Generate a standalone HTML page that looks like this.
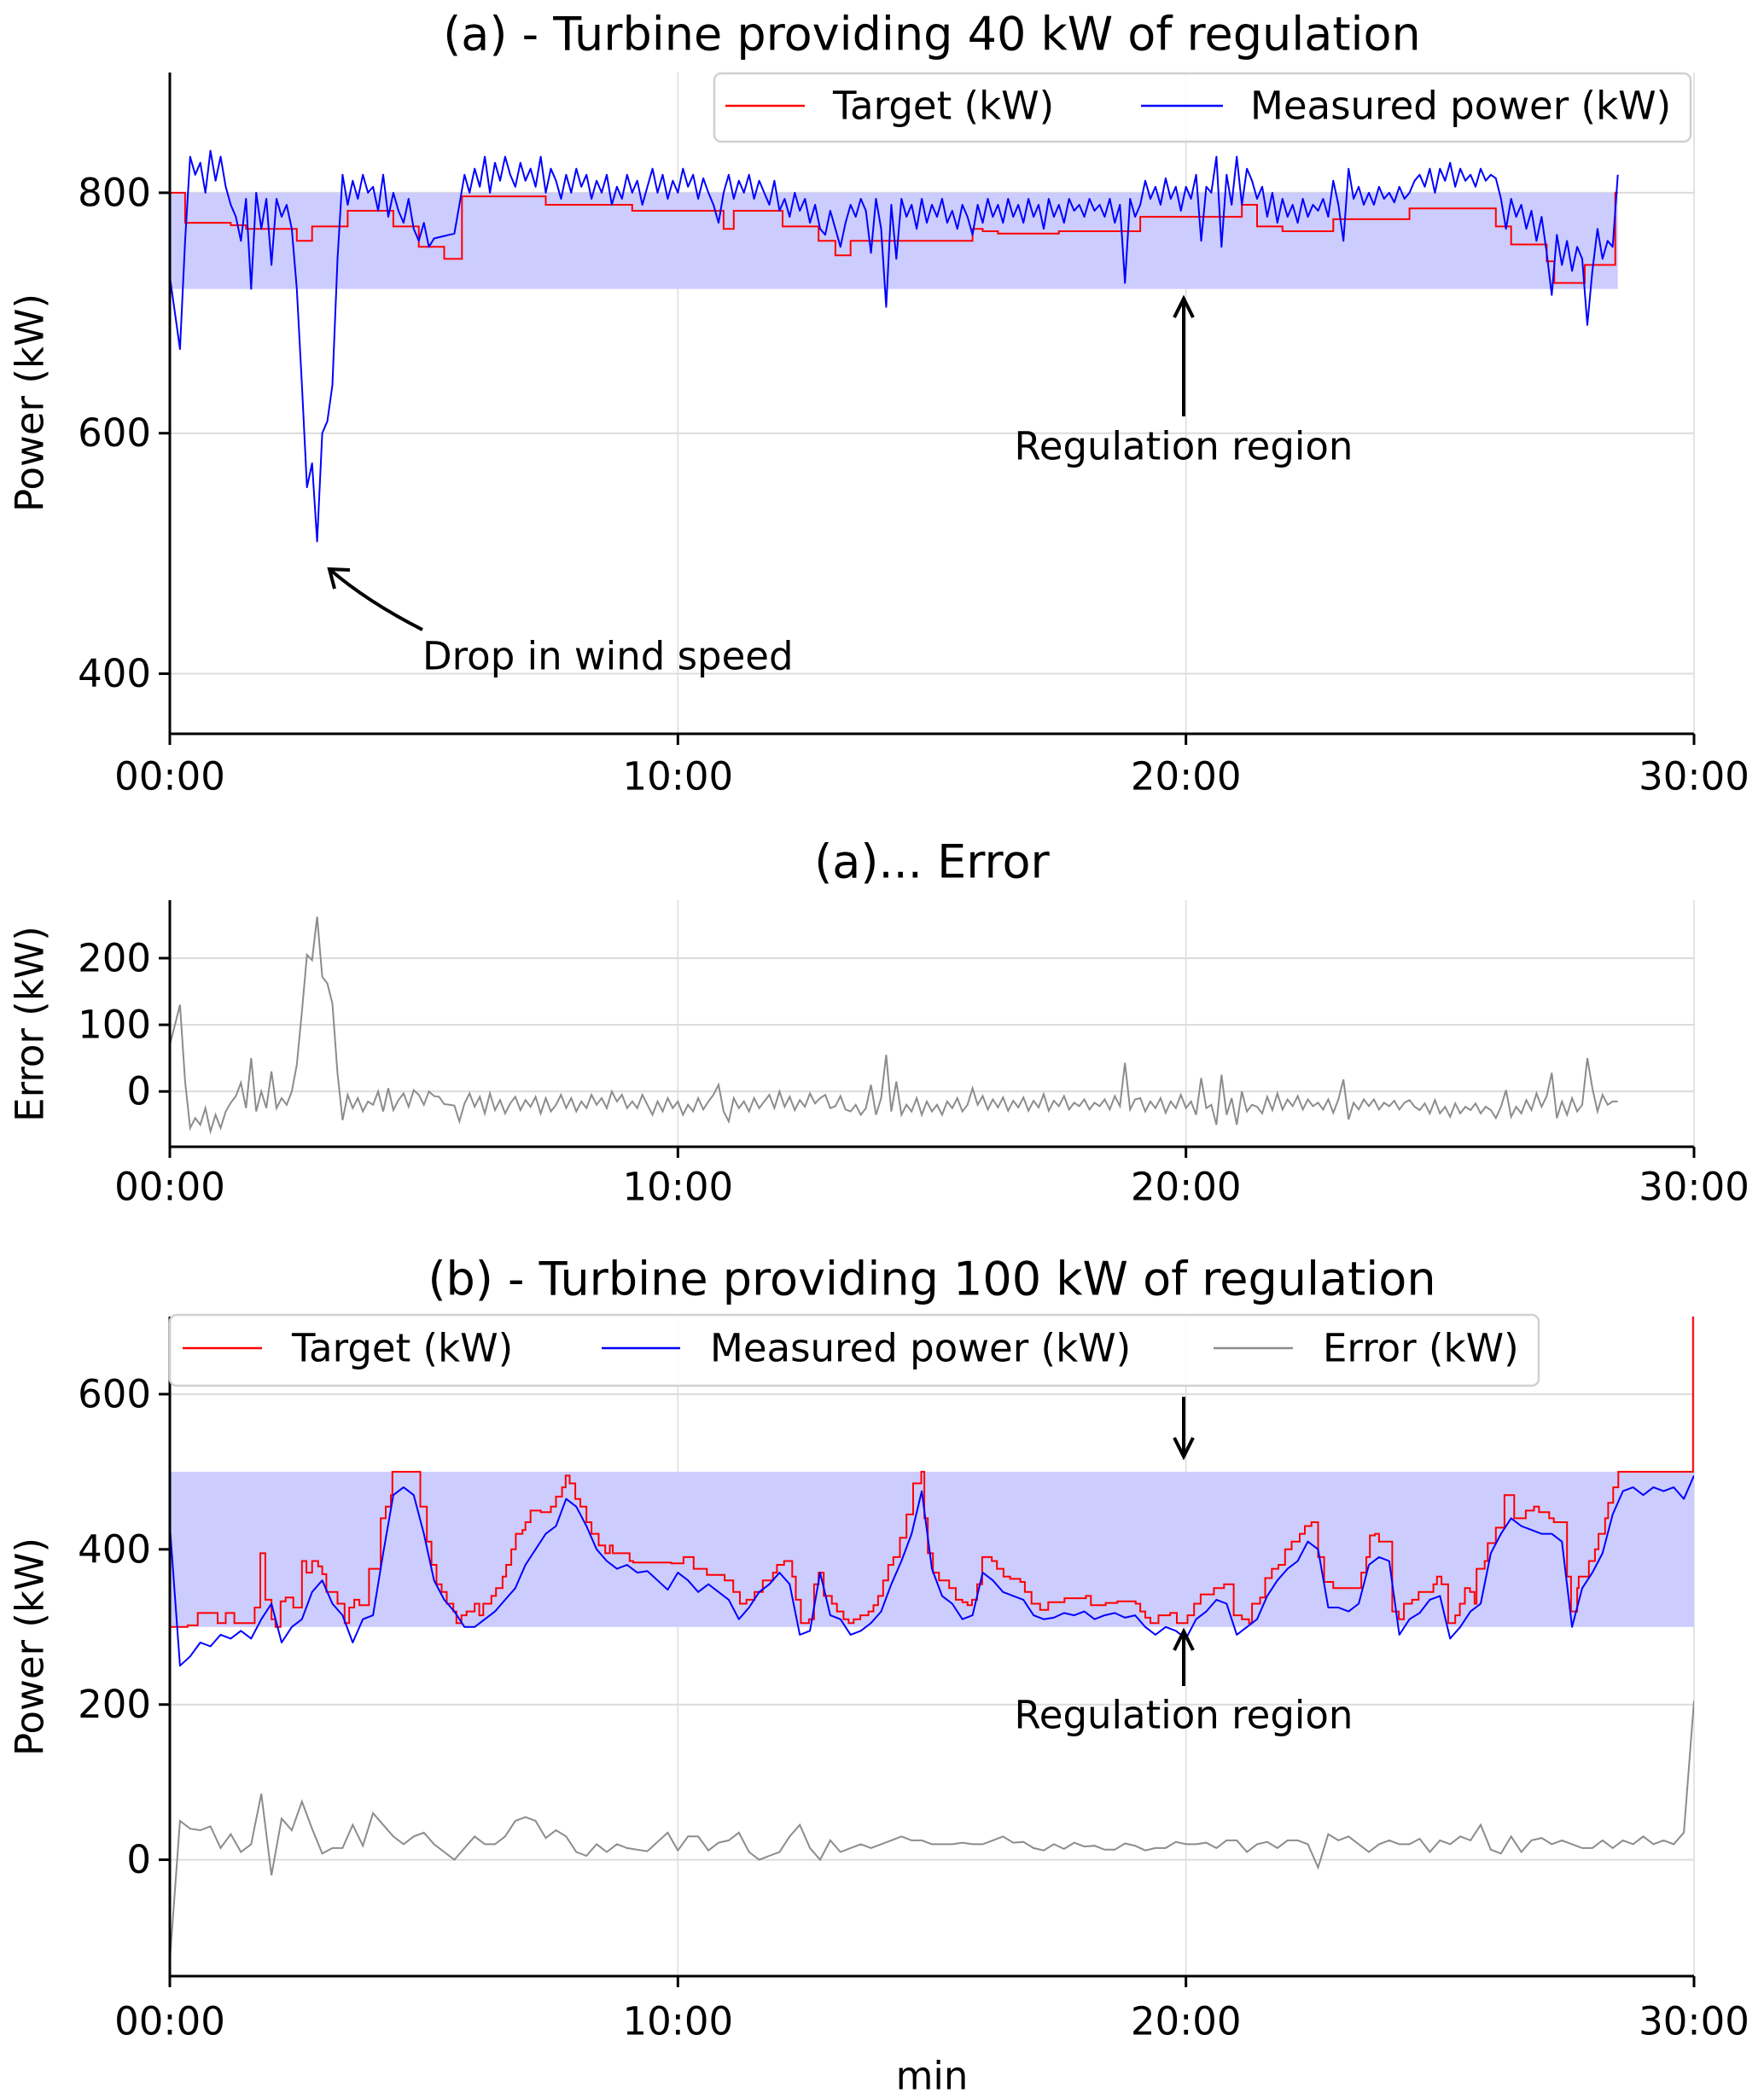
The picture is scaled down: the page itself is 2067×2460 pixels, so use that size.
<!DOCTYPE html>
<html><head><meta charset="utf-8">
<style>
html,body{margin:0;padding:0;background:#fff;}
svg{display:block;font-family:"DejaVu Sans","Liberation Sans",sans-serif;}
</style></head>
<body>
<svg id="fig" width="2067" height="2460" viewBox="0 0 2067 2460" xmlns="http://www.w3.org/2000/svg"></svg>
<script>
// ---------- Panel (a) data ----------
const measAStep = 0.1; // minutes between measured samples
const measuredA = [
730,700,670,760,830,815,825,800,835,810,
830,805,790,780,760,795,720,800,770,795,
740,795,780,790,770,720,640,555,575,510,
600,610,640,745,815,790,810,795,815,800,
805,785,815,780,800,785,775,795,770,760,
775,755,762,763,764,765,766,790,815,800,
820,805,830,800,825,810,830,815,805,825,
810,820,805,830,800,820,810,795,815,800,
820,805,815,795,810,800,815,790,805,795,
815,800,810,790,805,820,800,815,795,810,
800,820,805,815,795,812,800,790,775,800,
815,795,810,800,815,795,810,800,790,810,
785,795,780,800,785,795,775,790,770,765,
785,770,755,775,790,780,795,785,750,795,
770,705,790,745,795,780,790,770,795,775,
790,780,795,775,785,770,790,780,765,790,
775,795,780,790,775,795,780,790,775,795,
780,790,770,795,780,790,775,795,785,790,
780,795,785,790,780,795,775,790,725,795,
780,790,810,795,805,790,812,795,805,785,
805,795,815,760,805,800,830,755,815,790,
830,790,820,810,795,805,780,800,775,795,
780,790,775,795,780,790,785,795,780,810,
790,760,820,795,805,790,800,790,805,795,
800,792,805,795,800,810,815,805,820,800,
820,810,825,805,820,810,815,805,820,810,
815,812,795,770,795,780,790,770,785,760,
780,750,715,765,740,760,735,755,745,690,
735,770,745,760,755,815
];
const targetATimes = [0,0.3,1.2,1.5,2.5,2.8,3.5,4.4,4.9,5.4,5.75,7.4,9.1,10.9,11.1,12.06,12.77,13.1,13.4,15.8,16.0,16.3,17.5,19.1,21.1,21.4,21.9,22.9,24.4,26.1,26.4,27.1,27.25,27.85,28.45,28.5];
const targetAVals  = [800,775,773,770,760,772,785,772,755,745,797,790,785,770,785,772,760,748,760,770,768,766,768,780,790,772,768,778,787,772,757,743,725,740,800,800];
const bandA = [720, 800];
const yTicksA = [400, 600, 800];
const yTicksErrA = [0, 100, 200];
const xTicks = [0, 10, 20, 30];
const xTickLabels = ["00:00", "10:00", "20:00", "30:00"];

// ---------- Panel (b) data ----------
const measBStep = 0.2;
const measuredB = [
430,250,262,280,275,290,285,295,285,310,
330,280,300,310,345,360,330,315,280,310,
315,395,470,480,470,420,360,335,320,300,
300,310,320,335,350,380,400,420,430,465,
455,430,400,385,375,380,370,372,360,348,
370,360,345,355,345,335,310,325,345,355,
370,355,290,295,370,315,310,290,295,305,
320,355,385,420,475,375,340,330,310,315,
370,360,345,340,335,315,310,312,318,315,
320,310,315,318,312,315,300,290,300,295,
285,310,320,335,330,290,300,310,340,360,
375,385,410,400,325,325,320,330,380,390,
385,290,310,318,335,340,285,300,320,330,
395,420,440,430,425,420,420,410,300,350,
370,395,445,475,480,470,480,475,480,465,
495
];
const targetBTimes = [0,0.35,0.55,0.94,1.1,1.27,1.67,1.78,1.88,2.0,2.08,2.18,2.28,2.43,2.6,2.69,2.8,2.92,3.0,3.08,3.3,3.44,3.53,3.63,3.73,3.92,4.15,4.25,4.35,4.38,4.93,5.06,5.15,5.25,5.35,5.45,5.58,5.64,5.74,5.84,6.0,6.09,6.17,6.33,6.42,6.55,6.62,6.72,6.81,6.94,7.0,7.1,7.3,7.5,7.6,7.72,7.79,7.87,7.98,8.08,8.2,8.3,8.44,8.57,8.66,8.72,9.05,9.12,9.87,10.11,10.31,10.57,10.92,11.09,11.22,11.35,11.51,11.67,11.87,11.95,12.09,12.25,12.32,12.42,12.58,12.68,12.77,12.87,13.03,13.13,13.26,13.36,13.46,13.59,13.75,13.85,13.94,14.04,14.14,14.24,14.37,14.5,14.63,14.79,14.85,14.92,15.02,15.14,15.34,15.47,15.6,15.7,15.79,15.89,15.99,16.18,16.28,16.41,16.54,16.74,16.83,16.96,17.13,17.29,17.61,18.03,18.13,18.42,18.65,19.01,19.1,19.2,19.3,19.46,19.69,19.82,20.03,20.16,20.29,20.55,20.75,20.94,21.1,21.24,21.3,21.46,21.56,21.69,21.82,21.95,22.08,22.24,22.34,22.47,22.6,22.72,22.9,23.45,23.55,23.62,23.72,23.8,24.06,24.19,24.29,24.45,24.58,24.87,24.94,25.03,25.16,25.3,25.39,25.49,25.59,25.68,25.72,25.88,25.94,26.1,26.27,26.46,26.69,26.85,26.95,27.15,27.24,27.5,27.58,27.7,27.73,27.93,28.05,28.12,28.25,28.31,28.41,28.51,29.98,30];
const targetBVals  = [300,302,318,305,318,305,325,395,335,310,300,333,338,325,385,370,385,378,368,345,330,305,325,335,328,375,440,455,470,500,455,410,380,355,345,330,320,305,315,320,330,315,330,340,350,365,380,400,420,425,435,450,448,455,468,480,495,485,465,455,435,420,405,395,405,395,385,383,382,390,375,367,360,345,330,335,345,360,370,380,385,365,335,305,310,355,370,340,330,320,310,305,310,315,320,328,340,360,380,390,415,445,485,500,440,395,370,360,350,335,332,328,335,355,390,385,375,365,362,358,345,330,322,332,337,340,328,331,333,330,320,312,305,315,318,305,315,330,342,350,355,315,310,305,330,338,363,375,380,400,410,420,430,435,390,358,350,370,390,418,420,410,320,310,330,335,345,355,365,355,305,315,330,350,345,330,375,385,408,428,470,440,450,455,448,440,435,365,320,350,365,385,400,420,440,460,480,500,700,700];
const bandB = [300, 500];
const yTicksB = [0, 200, 400, 600];

// ---------- helpers ----------
const NS = "http://www.w3.org/2000/svg";
const svg = document.getElementById("fig");
function el(tag, attrs, parent) {
  const e = document.createElementNS(NS, tag);
  for (const k in attrs) e.setAttribute(k, attrs[k]);
  (parent || svg).appendChild(e);
  return e;
}
function stepAt(times, vals, t) {
  let v = vals[0];
  for (let i = 0; i < times.length; i++) { if (times[i] <= t + 1e-9) v = vals[i]; else break; }
  return v;
}
const X0 = 199, X1 = 1985;
function xs(t) { return X0 + (t / 30) * (X1 - X0); }
function makeY(vmin, vmax, ptop, pbot) { return v => pbot - (v - vmin) / (vmax - vmin) * (pbot - ptop); }

function drawAxes(name, yScale, ptop, pbot, yTicks) {
  const g = el("g", {});
  
  
  yTicks.forEach(v => {
    const l = el("line", {x1: X0, x2: X1, y1: yScale(v), y2: yScale(v), stroke: "#dcdcdc", "stroke-width": 2}, g);
    
    
  });
  xTicks.forEach(t => {
    if (t === 0) return;
    const l = el("line", {x1: xs(t), x2: xs(t), y1: ptop, y2: pbot, stroke: "#dcdcdc", "stroke-width": 1.5}, g);
    
    
  });
  return g;
}
function drawSpines(name, yScale, ptop, pbot, yTicks, tickLabelY) {
  const g = el("g", {});
  
  
  const ls = el("line", {x1: X0, x2: X0, y1: ptop, y2: pbot + 1.5, stroke: "#000", "stroke-width": 3}, g);
  
  
  const bs = el("line", {x1: X0 - 1.5, x2: X1, y1: pbot, y2: pbot, stroke: "#000", "stroke-width": 3}, g);
  
  
  yTicks.forEach(v => {
    const tk = el("line", {x1: X0 - 13, x2: X0, y1: yScale(v), y2: yScale(v), stroke: "#000", "stroke-width": 3}, g);
    
    
    const tx = el("text", {x: X0 - 22, y: yScale(v), "font-size": 45, "text-anchor": "end", "dominant-baseline": "central", fill: "#000"}, g);
    
    
    tx.textContent = String(v);
  });
  xTicks.forEach((t, i) => {
    const tk = el("line", {x1: xs(t), x2: xs(t), y1: pbot, y2: pbot + 13, stroke: "#000", "stroke-width": 3}, g);
    
    
    const tx = el("text", {x: xs(t), y: tickLabelY, "font-size": 45, "text-anchor": "middle", "dominant-baseline": "central", fill: "#000"}, g);
    
    
    tx.textContent = xTickLabels[i];
  });
}
function text(str, x, y, size, name, anchor, rot) {
  const t = el("text", {x: x, y: y, "font-size": size, "text-anchor": anchor || "middle", "dominant-baseline": "central", fill: "#000"});
  if (rot) t.setAttribute("transform", "rotate(" + rot + " " + x + " " + y + ")");
  
  
  t.textContent = str;
  return t;
}
function clip(id, ptop, pbot) {
  const defs = el("defs", {});
  const cp = el("clipPath", {id: id}, defs);
  el("rect", {x: X0, y: ptop, width: X1 - X0, height: pbot - ptop}, cp);
}
function linePath(pts) { return pts.map((p, i) => (i ? "L" : "M") + p[0].toFixed(1) + "," + p[1].toFixed(1)).join(""); }
function stepPts(times, vals, yScale) {
  const pts = [];
  for (let i = 0; i < times.length; i++) {
    if (i > 0) pts.push([xs(times[i]), yScale(vals[i - 1])]);
    pts.push([xs(times[i]), yScale(vals[i])]);
  }
  return pts;
}
function arrow(x1, y1, x2, y2, name) {
  const g = el("g", {});
  
  
  el("line", {x1: x1, y1: y1, x2: x2, y2: y2, stroke: "#000", "stroke-width": 4}, g);
  const dir = Math.sign(y2 - y1);
  el("path", {d: `M${x2 - 11},${y2 - dir * 22} L${x2},${y2} L${x2 + 11},${y2 - dir * 22}`, fill: "none", stroke: "#000", "stroke-width": 4}, g);
}
function legendEntry(x1, x2, tx, y, color, label, name) {
  const g = el("g", {});
  
  
  el("line", {x1: x1, x2: x2, y1: y, y2: y, stroke: color, "stroke-width": 2.5}, g);
  const t = el("text", {x: tx, y: y, "font-size": 45, "dominant-baseline": "central", fill: "#000"}, g);
  t.textContent = label;
}

// ================= Panel (a) =================
const aTop = 85, aBot = 860;
const yA = makeY(350, 900, aTop, aBot);
drawAxes("panel-a", yA, aTop, aBot, yTicksA);
clip("clipA", aTop, aBot);
const bandRectA = el("rect", {x: X0, y: yA(bandA[1]), width: xs(28.5) - X0, height: yA(bandA[0]) - yA(bandA[1]), fill: "#ccccff"});


const tgtA = el("path", {d: linePath(stepPts(targetATimes, targetAVals, yA)), fill: "none", stroke: "#ff0000", "stroke-width": 2, "clip-path": "url(#clipA)"});


const measPtsA = measuredA.map((v, i) => [xs(i * measAStep), yA(v)]);
const measLineA = el("path", {d: linePath(measPtsA), fill: "none", stroke: "#0000ff", "stroke-width": 2, "stroke-linejoin": "round", "clip-path": "url(#clipA)"});


drawSpines("panel-a", yA, aTop, aBot, yTicksA, 910);
text("(a) - Turbine providing 40 kW of regulation", 1092, 40, 54, "title-a");
text("Power (kW)", 35, 472, 45, "y-axis-title-a", "middle", -90);
const legA = el("rect", {x: 837, y: 86, width: 1144, height: 80, rx: 8, fill: "#fff", "fill-opacity": 0.85, stroke: "#d0d0d0", "stroke-width": 2.5});


legendEntry(850, 943, 976, 124, "#ff0000", "Target (kW)", "legend-entry-target-a");
legendEntry(1337, 1433, 1465, 124, "#0000ff", "Measured power (kW)", "legend-entry-measured-a");
arrow(1387, 488, 1387, 350, "regulation-arrow-a");
text("Regulation region", 1387, 523, 45, "regulation-label-a");
const curve = el("path", {d: "M495,738 Q430,705 386,667", fill: "none", stroke: "#000", "stroke-width": 4});


const head = el("path", {d: "M392,690 L386,667 L410,668", fill: "none", stroke: "#000", "stroke-width": 4});


text("Drop in wind speed", 495, 769, 45, "drop-label", "start");

// ================= Panel (a) error =================
const eTop = 1055, eBot = 1344;
const yE = makeY(-83, 287, eTop, eBot);
drawAxes("panel-a-error", yE, eTop, eBot, yTicksErrA);
clip("clipE", eTop, eBot);
const errPtsA = measuredA.map((v, i) => {
  const t = i * measAStep;
  return [xs(t), yE(stepAt(targetATimes, targetAVals, t) - v)];
});
const errLineA = el("path", {d: linePath(errPtsA), fill: "none", stroke: "#8c8c8c", "stroke-width": 2, "clip-path": "url(#clipE)"});


drawSpines("panel-a-error", yE, eTop, eBot, yTicksErrA, 1391);
text("(a)... Error", 1092, 1010, 54, "title-a-error");
text("Error (kW)", 35, 1200, 45, "y-axis-title-error", "middle", -90);

// ================= Panel (b) =================
const bTop = 1543, bBot = 2316;
const yB = makeY(-150, 700, bTop, bBot);
drawAxes("panel-b", yB, bTop, bBot, yTicksB);
clip("clipB", bTop, bBot);
const bandRectB = el("rect", {x: X0, y: yB(bandB[1]), width: X1 - X0, height: yB(bandB[0]) - yB(bandB[1]), fill: "#ccccff"});


const errPtsB = measuredB.map((v, i) => {
  const t = i * measBStep;
  return [xs(t), yB(stepAt(targetBTimes, targetBVals, t) - v)];
});
const errLineB = el("path", {d: linePath(errPtsB), fill: "none", stroke: "#8c8c8c", "stroke-width": 2, "clip-path": "url(#clipB)"});


const tgtB = el("path", {d: linePath(stepPts(targetBTimes, targetBVals, yB)), fill: "none", stroke: "#ff0000", "stroke-width": 2, "clip-path": "url(#clipB)"});


const measPtsB = measuredB.map((v, i) => [xs(i * measBStep), yB(v)]);
const measLineB = el("path", {d: linePath(measPtsB), fill: "none", stroke: "#0000ff", "stroke-width": 2, "stroke-linejoin": "round", "clip-path": "url(#clipB)"});


drawSpines("panel-b", yB, bTop, bBot, yTicksB, 2369);
text("(b) - Turbine providing 100 kW of regulation", 1092, 1499, 54, "title-b");
text("Power (kW)", 35, 1930, 45, "y-axis-title-b", "middle", -90);
text("min", 1092, 2433, 45, "x-axis-title");
const legB = el("rect", {x: 199, y: 1541, width: 1604, height: 83, rx: 8, fill: "#fff", "fill-opacity": 0.85, stroke: "#d0d0d0", "stroke-width": 2.5});


legendEntry(214, 307, 342, 1580, "#ff0000", "Target (kW)", "legend-entry-target-b");
legendEntry(705, 797, 832, 1580, "#0000ff", "Measured power (kW)", "legend-entry-measured-b");
legendEntry(1422, 1515, 1550, 1580, "#8c8c8c", "Error (kW)", "legend-entry-error-b");
arrow(1387, 1637, 1387, 1707, "regulation-arrow-top-b");
arrow(1387, 1976, 1387, 1912, "regulation-arrow-bottom-b");
text("Regulation region", 1387, 2010, 45, "regulation-label-b");
</script>
</body></html>
